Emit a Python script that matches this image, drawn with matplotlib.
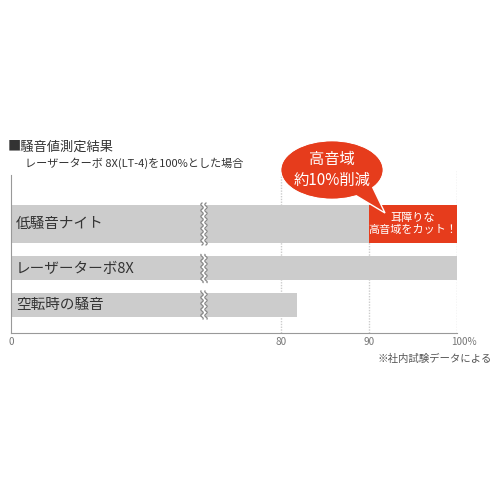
import numpy as np
import matplotlib
matplotlib.use("Agg")
import matplotlib.pyplot as plt
from matplotlib.patches import Ellipse, Polygon
from matplotlib.transforms import ScaledTranslation

plt.rcParams['font.family'] = ['Noto Sans CJK JP', 'DejaVu Sans']

# ---- data ----
categories = ["低騒音ナイト", "レーザーターボ8X", "空転時の騒音"]
gray_values = [90, 100, 81.8]
cut_values = [10, 0, 0]
tick_values = [0, 80, 90, 100]
tick_labels = ["0", "80", "90", "100%"]
title = "■騒音値測定結果"
subtitle = "レーザーターボ 8X(LT-4)を100%とした場合"
bubble_text = "高音域\n約10%削減"
cut_text = "耳障りな\n高音域をカット！"
footnote = "※社内試験データによる"
break_value = 71.25

# ---- layout / style ----
GRAY = "#CCCCCC"
RED = "#E63C1C"
AXC = "#999999"
TXT = "#333333"
y_centers = [224, 268.5, 305]
heights = [38, 24, 24]

fig = plt.figure(figsize=(5, 5), dpi=100)
fig.patch.set_facecolor("white")
ax = fig.add_axes([11/500, 1-333/500, 446/500, (333-170)/500])

kv = np.array([0, break_value, 100])
ku = np.array([0, 193, 446])
fwd = lambda v: np.interp(v, kv, ku)
inv = lambda u: np.interp(u, ku, kv)
ax.set_xscale('function', functions=(fwd, inv))
ax.set_xlim(0, 100)
ax.set_ylim(333, 170)

# grid
for t in tick_values[1:]:
    ax.axvline(t, color="#CCCCCC", lw=1, ls=(0, (1, 1)), zorder=0)

ax.barh(y_centers, gray_values, height=heights, color=GRAY, zorder=2)
ax.barh(y_centers, cut_values, left=gray_values, height=heights, color=RED, zorder=2)

# break marks
yy_base = np.linspace(-0.5, 0.5, 60)
bx = fwd(break_value)
for yc, h in zip(y_centers, heights):
    ys = yc + yy_base * (h + 4)
    wave = 1.2 * np.sin((ys - yc) / 6.0 * 2 * np.pi)
    xs1 = inv(bx - 2 + wave)
    xs2 = inv(bx + 2 + wave)
    ax.fill_betweenx(ys, xs1, xs2, color="white", zorder=3, lw=0)
    ax.plot(xs1, ys, color="#888888", lw=0.9, zorder=4)
    ax.plot(xs2, ys, color="#888888", lw=0.9, zorder=4)

# labels inside bars
for yc, lab in zip(y_centers, categories):
    ax.annotate(lab, xy=(0, yc), xytext=(5, 0), textcoords="offset pixels",
                ha="left", va="center", fontsize=10.5, color=TXT, zorder=5)

# cut text
ax.text(gray_values[0] + cut_values[0] / 2, y_centers[0], cut_text, ha="center", va="center",
        fontsize=8, color="white", linespacing=1.3, zorder=5)

# spines
for s in ["top", "right"]:
    ax.spines[s].set_visible(False)
ax.spines["left"].set_color(AXC)
ax.spines["bottom"].set_color(AXC)
ax.spines["left"].set_bounds(333, 175)
ax.set_yticks([])
ax.set_xticks(tick_values)
ax.set_xticklabels(tick_labels)
ax.tick_params(axis="x", length=0, pad=3, labelsize=7.2, labelcolor="#777777")
lbls = ax.get_xticklabels()
lbls[-1].set_horizontalalignment("left")
lbls[-1].set_transform(lbls[-1].get_transform() + ScaledTranslation(-6/100, 0, fig.dpi_scale_trans))
ax.set_facecolor("none")

# overlay for annotations
ov = fig.add_axes([0, 0, 1, 1], zorder=10)
ov.set_xlim(0, 500)
ov.set_ylim(500, 0)
ov.axis("off")
ov.patch.set_alpha(0)

ov.text(8, 147, title, ha="left", va="center", fontsize=9.5, color=TXT)
ov.text(25, 163, subtitle, ha="left", va="center", fontsize=8, color=TXT)
ov.text(492, 359, footnote, ha="right", va="center", fontsize=7.5, color="#555555")

ell = Ellipse((332, 170), 102, 58, facecolor=RED, edgecolor="white", lw=1)
ov.add_patch(ell)
tail = Polygon([(350, 192), (372, 186), (385, 213)], closed=True,
               facecolor=RED, edgecolor="white", lw=1)
ov.add_patch(tail)
ov.add_patch(Ellipse((332, 170), 101, 57, facecolor=RED, edgecolor="none"))
ov.text(332, 170, bubble_text, ha="center", va="center", fontsize=11,
        color="white", linespacing=1.25)

fig.savefig("out.png", dpi=100, facecolor="white")
